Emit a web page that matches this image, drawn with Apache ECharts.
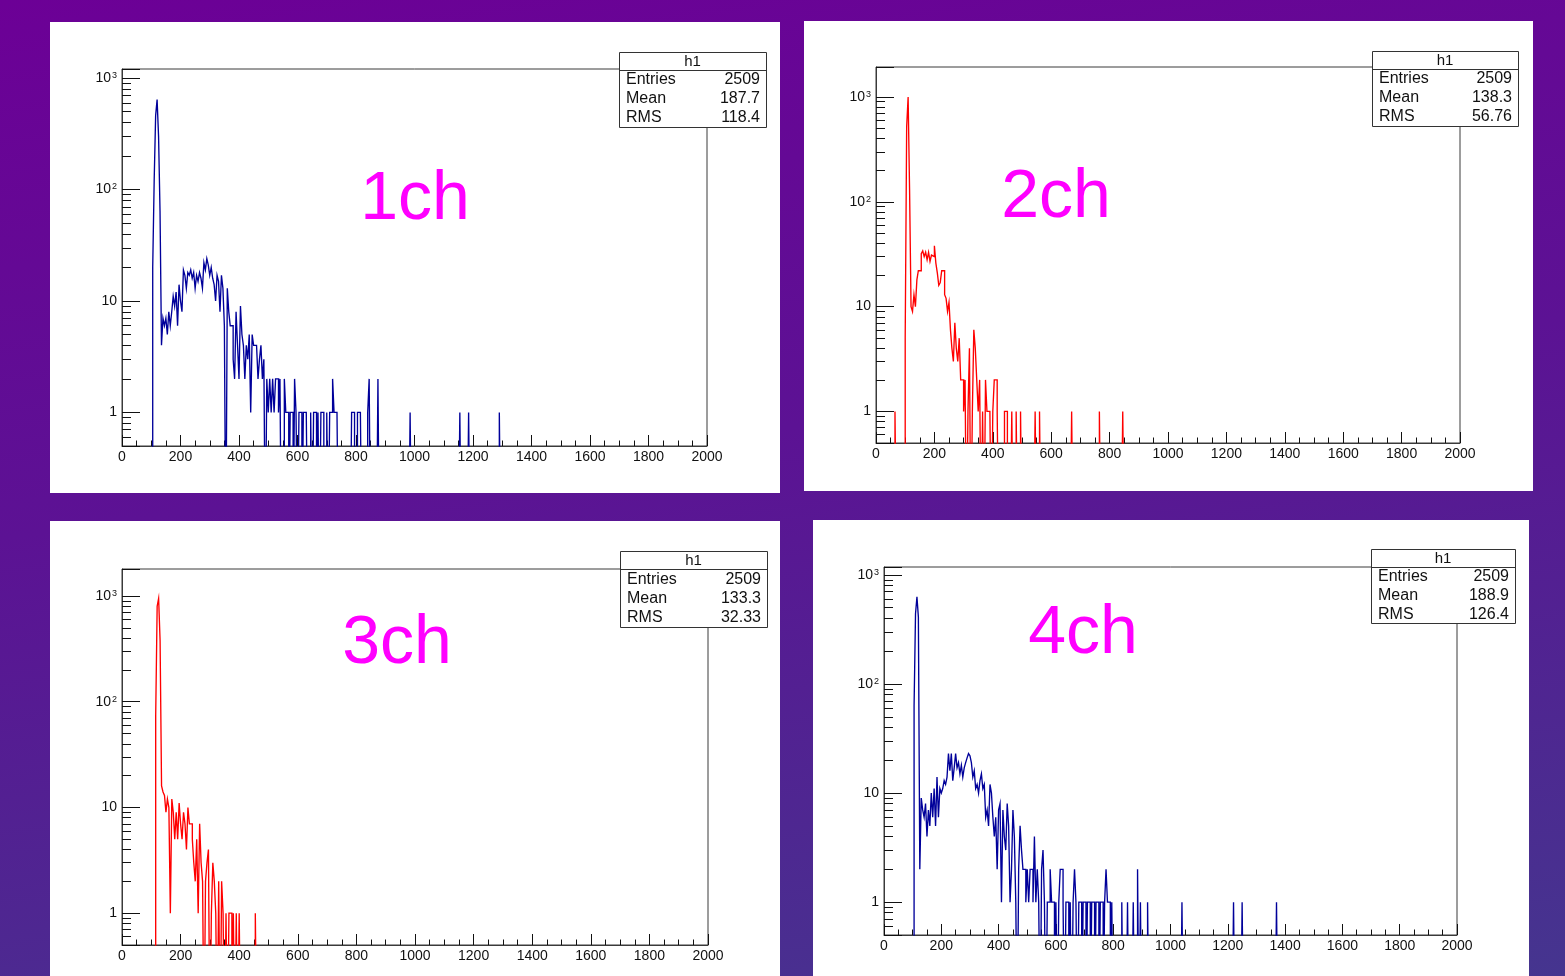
<!DOCTYPE html>
<html>
<head>
<meta charset="utf-8">
<script src="https://cdn.jsdelivr.net/npm/echarts@6/dist/echarts.min.js"></script>
<style>
html,body{margin:0;padding:0;}
body{background:linear-gradient(172deg,#6c0096 0%,#5c1294 45%,#45358f 100%);width:1565px;height:976px;overflow:hidden;}
#c{width:1565px;height:976px;}
</style>
</head>
<body>
<div id="c"></div>
<script>
// ---------------- data ----------------
const binWidth = 5;                       // histogram bin width (ADC units)
const channelNames = ['1ch', '2ch', '3ch', '4ch'];
const statTitle = 'h1';
const statLabels = ['Entries', 'Mean', 'RMS'];
const statEntries = ['2509', '2509', '2509', '2509'];
const statMean = ['187.7', '138.3', '133.3', '188.9'];
const statRMS = ['118.4', '56.76', '32.33', '126.4'];
const xTickValues = [0, 200, 400, 600, 800, 1000, 1200, 1400, 1600, 1800, 2000];
const yTickLabels = { 1: '1', 10: '10', 100: '10{s|2}', 1000: '10{s|3}' };
const yRangeMin = [0.5, 0.5, 0.5, 0.5];
const yRangeMax = [1205, 1930, 1800, 1180];

// counts per 5-unit bin, starting at the given low edge
const ch1Start = 105;
const ch1Counts = [
  20,120,460,640,300,64,4,7,6,7,
  5,8,6,8,11,9,12,6,14,10,
  8,19,17,13,18,17,19,16,18,13,
  17,15,18,16,13,22,19,24,21,17,
  20,16,14,10,17,15,8,17,13,6,
  0,13,8,6,6,3,2,8,4,2,
  9,5,4,2,4,3,5,1,5,4,
  4,4,2,3,4,2,3,0,2,1,
  2,1,2,1,2,2,1,2,0,0,
  2,1,1,0,1,1,0,2,1,0,
  1,1,0,1,1,1,0,0,1,0,
  1,1,0,1,0,1,1,0,0,1,
  0,1,1,2,1,1,1
];
const ch1Tail = [[785,1],[790,1],[805,1],[810,1],[815,1],[840,1],[845,2],[875,2],[985,1],[1155,1],[1185,1],[1290,1]];

const ch2Start = 65;
const ch2Counts = [
  1,0,0,0,0,0,0,5,520,1000,
  130,10,9,13,10,18,22,22,32,34,
  30,33,28,33,27,31,30,38,26,21,
  16,17,22,22,13,12,9,11,6,4,
  3,7,4,3,5,2,2,1,2,0,
  1,4,0,1,6,4,2,1,2,0,
  1,0,2,1,1,1,0,1,2,2,
  1,0,0,0,0,1,1,0,0,0,
  1,0,0,1,0,0,1
];
const ch2Tail = [[545,1],[560,1],[670,1],[765,1],[845,1]];

const ch3Start = 115;
const ch3Counts = [
  74,800,950,380,16,14,13,9,12,10,
  1,12,9,5,9,5,11,7,5,9,
  7,4,10,7,7,5,3,2,5,1,
  7,3,2,0,2,3,4,0,1,3,
  2,1,0,2,0,2,1,0,1,0,
  1,1,0,1,0,1,0,1
];
const ch3Tail = [[455,1]];

const ch4Start = 105;
const ch4Counts = [
  63,440,630,410,2,9,7,6,8,4,
  7,5,10,6,11,5,14,6,11,10,
  11,13,12,14,23,16,23,13,17,23,
  17,19,15,18,14,17,19,21,23,22,
  19,14,16,11,12,10,13,15,11,12,
  6,7,5,12,10,6,4,6,2,7,
  8,1,7,4,3,8,5,1,2,7,
  4,1,0,2,5,3,2,2,1,2,
  1,2,2,1,4,1,2,1,0,2,
  3,1,0,1,1,2,1,1,0,1,
  0,1,2,2,1,0,1,1,0,1,
  0,1,2,1,0,1,1,0,1,1,
  0,1,1,0,1,1,0,1,1,0,
  1,1,0,1,2,1,1,0,1
];
const ch4Tail = [[830,1],[850,1],[870,1],[885,2],[895,1],[920,1],[1040,1],[1220,1],[1250,1],[1370,1]];

// ---------------- layout / style ----------------
const FONT = '"Liberation Sans", Arial, Helvetica, sans-serif';
const BLUE = '#00009a';
const RED = '#ff0000';
const panels = [
  { card: [50, 22, 730, 471],  grid: [122, 69, 585, 377], color: BLUE, label: [415, 200], stats: [619, 52, 147, 75] },
  { card: [804, 21, 729, 470], grid: [876, 67, 584, 376], color: RED,  label: [1056, 198], stats: [1372, 51, 146, 75] },
  { card: [50, 521, 730, 455], grid: [122, 569, 586, 376], color: RED,  label: [397, 644], stats: [620, 551, 147, 76] },
  { card: [813, 520, 716, 456], grid: [884, 567, 573, 368], color: BLUE, label: [1083, 634], stats: [1371, 549, 144, 74] }
];
const histos = [
  [ch1Start, ch1Counts, ch1Tail],
  [ch2Start, ch2Counts, ch2Tail],
  [ch3Start, ch3Counts, ch3Tail],
  [ch4Start, ch4Counts, ch4Tail]
];

const FLOOR = 0.05; // empty bins drawn below the axis minimum (clipped, as ROOT does on log scale)
// Histogram outline: each bin gives a horizontal segment from its low to its high edge
function buildOutline(start, counts, tail) {
  const bins = new Map();
  counts.forEach((c, i) => bins.set(start + i * binWidth, c));
  tail.forEach(([x, c]) => bins.set(x, c));
  const last = Math.max(...bins.keys());
  const pts = [[start, FLOOR]];
  for (let x = start; x <= last; x += binWidth) {
    const c = bins.get(x) || 0;
    const v = c > 0 ? c : FLOOR;
    pts.push([x, v], [x + binWidth, v]);
  }
  pts.push([last + binWidth, FLOOR]);
  return pts;
}

const grids = [], xAxes = [], yAxes = [], series = [], graphics = [];
panels.forEach((p, i) => {
  grids.push({ left: p.grid[0], top: p.grid[1], width: p.grid[2], height: p.grid[3],
    show: true, borderColor: '#3a3a3a', borderWidth: 1, backgroundColor: 'transparent' });
  xAxes.push({
    type: 'value', gridIndex: i, min: xTickValues[0], max: xTickValues[xTickValues.length - 1],
    interval: xTickValues[1] - xTickValues[0],
    axisLine: { show: true, onZero: false, lineStyle: { color: '#3a3a3a', width: 1 } },
    axisTick: { show: true, inside: true, length: 11, lineStyle: { color: '#111', width: 1 } },
    minorTick: { show: true, splitNumber: 4, length: 5.5, lineStyle: { color: '#111', width: 1 } },
    splitLine: { show: false },
    axisLabel: { show: true, margin: 4, fontSize: 14, fontFamily: FONT, color: '#111',
      showMinLabel: true, showMaxLabel: true,
      formatter: function (v) { return String(Math.round(v)); } }
  });
  yAxes.push({
    type: 'log', logBase: 10, gridIndex: i, min: yRangeMin[i], max: yRangeMax[i],
    axisLine: { show: true, lineStyle: { color: '#3a3a3a', width: 1 } },
    axisTick: { show: true, inside: true, length: 18, lineStyle: { color: '#111', width: 1 } },
    minorTick: { show: true, splitNumber: 9, length: 9, lineStyle: { color: '#111', width: 1 } },
    splitLine: { show: false },
    axisLabel: {
      show: true, margin: 5, fontSize: 14, fontFamily: FONT, color: '#111',
      formatter: function (v) {
        const r = Math.round(v);
        if (Math.abs(v - r) > 1e-6) return '';
        return yTickLabels[r] || '';
      },
      rich: { s: { fontSize: 9, fontFamily: FONT, color: '#111', verticalAlign: 'top', padding: [0, 0, 0, 1] } }
    }
  });
  const [st, cn, tl] = histos[i];
  series.push({
    type: 'line', xAxisIndex: i, yAxisIndex: i, data: buildOutline(st, cn, tl),
    symbol: 'none', showSymbol: false, clip: true, silent: true, animation: false,
    lineStyle: { color: p.color, width: 1.35, join: 'miter' }
  });

  // white pad
  graphics.push({ type: 'rect', z: -10, silent: true,
    shape: { x: p.card[0], y: p.card[1], width: p.card[2], height: p.card[3] }, style: { fill: '#ffffff' } });
  // channel label
  graphics.push({ type: 'text', z: 50, silent: true, x: p.label[0], y: p.label[1],
    style: { text: channelNames[i], fill: '#ff00ff', font: '68px ' + FONT, align: 'center', verticalAlign: 'middle' } });
  // stats box
  const [bx, by, bw, bh] = p.stats;
  const rowH = (bh - 18) / 3;
  const kids = [
    { type: 'rect', shape: { x: bx + 0.5, y: by + 0.5, width: bw, height: bh }, style: { fill: '#fff', stroke: '#333', lineWidth: 1 } },
    { type: 'line', shape: { x1: bx + 0.5, y1: by + 18.5, x2: bx + bw + 0.5, y2: by + 18.5 }, style: { stroke: '#333', lineWidth: 1 } },
    { type: 'text', x: bx + bw / 2, y: by + 10, style: { text: statTitle, fill: '#111', font: '15px ' + FONT, align: 'center', verticalAlign: 'middle' } }
  ];
  const vals = [statEntries[i], statMean[i], statRMS[i]];
  statLabels.forEach((lab, k) => {
    const cy = by + 18 + rowH * (k + 0.5) + 0.5;
    kids.push({ type: 'text', x: bx + 7, y: cy, style: { text: lab, fill: '#111', font: '16px ' + FONT, align: 'left', verticalAlign: 'middle' } });
    kids.push({ type: 'text', x: bx + bw - 6, y: cy, style: { text: vals[k], fill: '#111', font: '16px ' + FONT, align: 'right', verticalAlign: 'middle' } });
  });
  graphics.push({ type: 'group', z: 60, silent: true, children: kids });
});

const chart = echarts.init(document.getElementById('c'), null, { renderer: 'canvas', width: 1565, height: 976 });
chart.setOption({
  backgroundColor: 'transparent',
  animation: false,
  grid: grids,
  xAxis: xAxes,
  yAxis: yAxes,
  series: series,
  graphic: graphics
});
</script>
</body>
</html>
